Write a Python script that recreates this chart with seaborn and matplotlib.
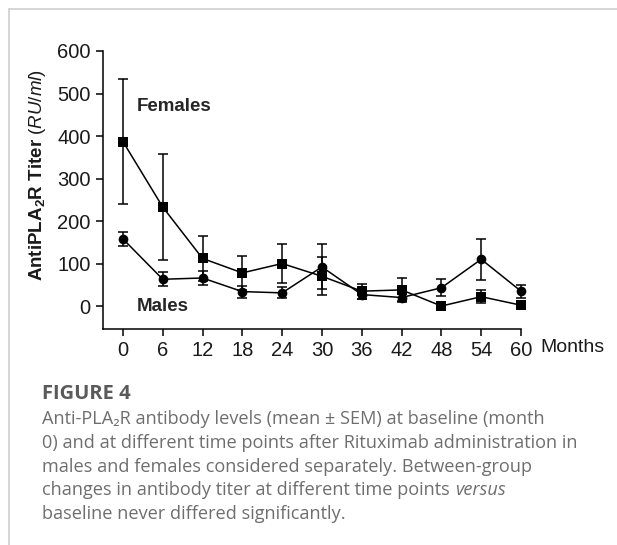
import numpy as np
import pandas as pd
import seaborn as sns
import matplotlib.pyplot as plt
from matplotlib.lines import Line2D

# data
months = [0, 6, 12, 18, 24, 30, 36, 42, 48, 54, 60]
females_mean = [387, 233, 112, 78, 100, 70, 35, 38, 0, 22, 2]
females_sem = [147, 125, 52, 40, 46, 45, 18, 28, 0, 16, 0]
males_mean = [158, 63, 66, 34, 31, 92, 27, 20, 43, 110, 35]
males_sem = [17, 16, 17, 14, 13, 53, 10, 8, 20, 48, 15]

df = pd.DataFrame({
    "month": months * 2,
    "titer": females_mean + males_mean,
    "sem": females_sem + males_sem,
    "group": ["Females"] * len(months) + ["Males"] * len(months),
})

sns.set_style("ticks")
plt.rcParams["font.family"] = ["Liberation Sans", "DejaVu Sans"]
plt.rcParams["mathtext.fontset"] = "custom"
plt.rcParams["mathtext.rm"] = "Liberation Sans"
plt.rcParams["mathtext.bf"] = "Liberation Sans:bold"
plt.rcParams["mathtext.it"] = "Liberation Sans:italic"

fig = plt.figure(figsize=(6.17, 5.45), dpi=100)
ax = fig.add_axes([103 / 617, 1 - 329 / 545, 418 / 617, 278 / 545])

# error bars first, then the lines with markers on top
for g in ["Females", "Males"]:
    d = df[df["group"] == g]
    ax.errorbar(d["month"], d["titer"], yerr=d["sem"], fmt="none", ecolor="black",
                elinewidth=1.1, capsize=3.5, capthick=1.1, clip_on=False, zorder=2)

sns.lineplot(data=df, x="month", y="titer", style="group", markers={"Females": "s", "Males": "o"},
             dashes=False, color="black", linewidth=1.1, markersize=7, markeredgewidth=0,
             legend=False, ax=ax, zorder=3, clip_on=False)

ax.set_xlim(-3, 60)
ax.set_ylim(-54, 600)
ax.set_xticks(months)
ax.set_yticks([0, 100, 200, 300, 400, 500, 600])
ax.tick_params(axis="both", labelsize=14.5, length=5, width=1.1, color="black", labelcolor="#1a1a1a", pad=4)
ax.set_xlabel("")
ax.set_ylabel("")
sns.despine(ax=ax)
for s in ["left", "bottom"]:
    ax.spines[s].set_linewidth(1.1)
    ax.spines[s].set_color("black")

ax.text(2.1, 470, "Females", fontsize=13.5, fontweight="bold", va="center", ha="left")
ax.text(2.1, 0, "Males", fontsize=13.5, fontweight="bold", va="center", ha="left")

fig.text(540 / 617, 1 - 347 / 545, "Months", fontsize=14, va="center", ha="left", color="#1a1a1a")
fig.text(37.5 / 617, 1 - 175 / 545, r"$\mathbf{AntiPLA_2R\ Titer}\ \mathit{(RU/ml)}$",
         rotation=90, fontsize=13.5, va="center", ha="center", color="#1a1a1a")

# caption
cap_font = ["Open Sans", "DejaVu Sans"]
cap_size = 13.1
fig.text(42.5 / 617, 1 - 399 / 545, "FIGURE 4", fontsize=14.5, fontweight="bold",
         family=cap_font, color="#5a5a5a", va="baseline")
lines = [
    "Anti-PLA\u2082R antibody levels (mean \u00b1 SEM) at baseline (month",
    "0) and at different time points after Rituximab administration in",
    "males and females considered separately. Between-group",
]
base = 424
step = 23.8
for i, line in enumerate(lines):
    fig.text(42.5 / 617, 1 - (base + step * i) / 545, line, fontsize=cap_size, family=cap_font,
             color="#6e6e6e", va="baseline")
t4 = fig.text(42.5 / 617, 1 - (base + step * 3) / 545, "changes in antibody titer at different time points ",
              fontsize=cap_size, family=cap_font, color="#6e6e6e", va="baseline")
ax.annotate("versus", xy=(1, 0), xycoords=t4, fontsize=cap_size, family=cap_font, style="italic",
            color="#6e6e6e", va="bottom", ha="left", annotation_clip=False)
fig.text(42.5 / 617, 1 - (base + step * 4) / 545, "baseline never differed significantly.",
         fontsize=cap_size, family=cap_font, color="#6e6e6e", va="baseline")

# page frame (left and top border)
fig.add_artist(Line2D([9 / 617, 9 / 617], [0, 1 - 9 / 545], color="#d0d0d0", lw=1.2))
fig.add_artist(Line2D([9 / 617, 1], [1 - 9 / 545, 1 - 9 / 545], color="#d0d0d0", lw=1.2))

fig.savefig("out.png", dpi=100)
